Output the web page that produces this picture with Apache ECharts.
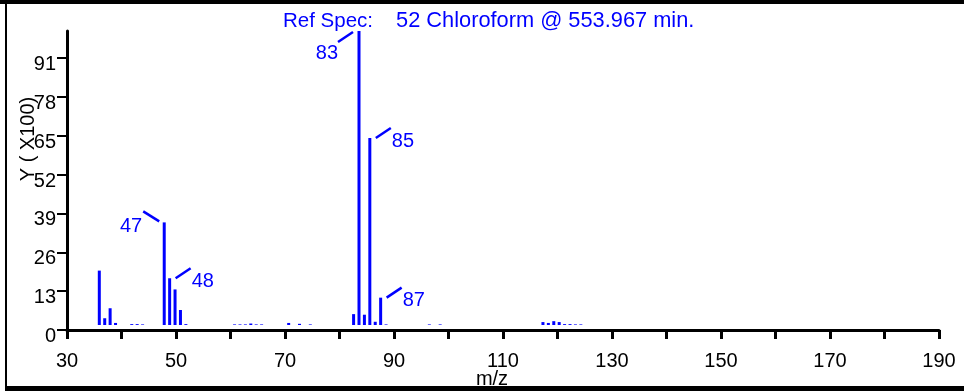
<!DOCTYPE html>
<html><head><meta charset="utf-8">
<script src="https://cdn.jsdelivr.net/npm/echarts@6/dist/echarts.min.js"></script>
<style>html,body{margin:0;padding:0;background:#fff}#c{width:964px;height:391px}</style>
</head><body><div id="c"></div>
<script>
// ---- data ----
const mzValues = [35, 36, 37, 38, 41, 42, 43, 47, 48, 49, 50, 51, 60, 61, 62, 63, 64, 65, 70, 72, 74, 82, 83, 84, 85, 86, 87, 88, 96, 98, 117, 118, 119, 120, 121, 122, 123, 124];
const intensities = [18.5, 2.3, 5.7, 0.7, 0.3, 0.3, 0.2, 34.9, 15.9, 12.1, 5.1, 0.3, 0.2, 0.2, 0.2, 0.5, 0.2, 0.2, 0.7, 0.4, 0.2, 3.7, 100, 3.5, 63.6, 1.1, 9.3, 0.2, 0.2, 0.2, 1.0, 0.7, 1.3, 1.0, 0.3, 0.3, 0.2, 0.2];
const peakLabels = [83, 85, 47, 48, 87];
const xTickLabels = [30, 50, 70, 90, 110, 130, 150, 170, 190];
const yTickLabels = [0, 13, 26, 39, 52, 65, 78, 91];
const titlePrefix = 'Ref Spec:';
const titleBody = '52 Chloroform @ 553.967 min.';
const xName = 'm/z';
const yName = 'Y ( X100)';

// ---- styles ----
const BLUE = '#0000ff';
const FONT = '"Liberation Sans", Arial, sans-serif';
const leaderStyle = {
  83: {x1: -6, y1: 1, x2: -21, y2: 11, tx: -21, ty: 22, align: 'right'},
  47: {x1: -5, y1: -1, x2: -21, y2: -11, tx: -22, ty: 4, align: 'right'},
  85: {x1: 6, y1: 0, x2: 21, y2: -10, tx: 22, ty: 3, align: 'left'},
  48: {x1: 6, y1: 0, x2: 21, y2: -10, tx: 22, ty: 3, align: 'left'},
  87: {x1: 6, y1: 0, x2: 21, y2: -10, tx: 22, ty: 3, align: 'left'}
};

const barData = mzValues.map((m, i) => [m, intensities[i]]);
const peakData = peakLabels.map(m => [m, intensities[mzValues.indexOf(m)]]);

const chart = echarts.init(document.getElementById('c'), null, {renderer: 'canvas'});
chart.setOption({
  animation: false,
  backgroundColor: '#fff',
  title: {
    text: '{a|' + titlePrefix + '}{b|' + titleBody + '}', left: 278, top: 5,
    textStyle: {
      color: BLUE, fontFamily: FONT, fontSize: 20, fontWeight: 'normal',
      rich: {
        a: {color: BLUE, fontFamily: FONT, fontSize: 20.5},
        b: {color: BLUE, fontFamily: FONT, fontSize: 21.8, padding: [0, 0, 0, 23]}
      }
    }
  },
  grid: {left: 67, right: 25, top: 31, bottom: 61, containLabel: false, outerBoundsMode: 'none'},
  xAxis: [{
    type: 'value', min: 30, max: 190, interval: 10,
    name: xName, nameLocation: 'middle', nameGap: 39, nameMoveOverlap: false,
    nameTextStyle: {color: '#000', fontFamily: FONT, fontSize: 20, padding: [0, 22, 0, 0]},
    axisLine: {show: true, onZero: false, lineStyle: {color: '#000', width: 3}},
    axisTick: {show: true, inside: false, length: 9, lineStyle: {color: '#000', width: 3}},
    axisLabel: {color: '#000', fontFamily: FONT, fontSize: 20, margin: 21,
      formatter: v => xTickLabels.indexOf(v) >= 0 ? String(v) : ''},
    splitLine: {show: false}
  }, {
    type: 'value', min: 29.03, max: 190.2, show: false
  }],
  yAxis: [{
    type: 'value', min: 0, max: 100, interval: 13,
    name: yName, nameLocation: 'middle', nameRotate: 90, nameGap: 29, nameMoveOverlap: false,
    nameTextStyle: {color: '#000', fontFamily: FONT, fontSize: 20, padding: [0, 0, 0, 83]},
    axisLine: {show: true, onZero: false, lineStyle: {color: '#000', width: 3}},
    axisTick: {show: true, inside: false, length: 10, lineStyle: {color: '#000', width: 2}, customValues: yTickLabels},
    axisLabel: {color: '#000', fontFamily: FONT, fontSize: 20, margin: 11,
      verticalAlign: 'top', lineHeight: 13,
      customValues: yTickLabels,
      formatter: v => yTickLabels.indexOf(v) >= 0 ? String(v) : ''},
    splitLine: {show: false}
  }, {
    type: 'value', min: -1.7, max: 100, show: false
  }],
  graphic: [
    {type: 'rect', shape: {x: 0, y: 0, width: 964, height: 4}, style: {fill: '#000'}, z: 100},
    {type: 'rect', shape: {x: 5, y: 0, width: 2, height: 391}, style: {fill: '#000'}, z: 100},
    {type: 'rect', shape: {x: 5, y: 386, width: 959, height: 5}, style: {fill: '#000'}, z: 100}
  ],
  series: [{
    type: 'bar', xAxisIndex: 1, yAxisIndex: 1, data: barData,
    barWidth: 3, itemStyle: {color: BLUE}, silent: true
  }, {
    type: 'custom', xAxisIndex: 1, yAxisIndex: 1, data: peakData, silent: true,
    renderItem: function (params, api) {
      const m = api.value(0);
      const p = api.coord([m, api.value(1)]);
      const s = leaderStyle[m];
      return {
        type: 'group',
        children: [{
          type: 'line',
          shape: {x1: p[0] + s.x1, y1: p[1] + s.y1, x2: p[0] + s.x2, y2: p[1] + s.y2},
          style: {stroke: BLUE, lineWidth: 2.5}
        }, {
          type: 'text',
          style: {x: p[0] + s.tx, y: p[1] + s.ty, text: String(m), fill: BLUE,
            font: '20px ' + FONT, align: s.align, verticalAlign: 'middle'}
        }]
      };
    }
  }]
});
</script></body></html>
